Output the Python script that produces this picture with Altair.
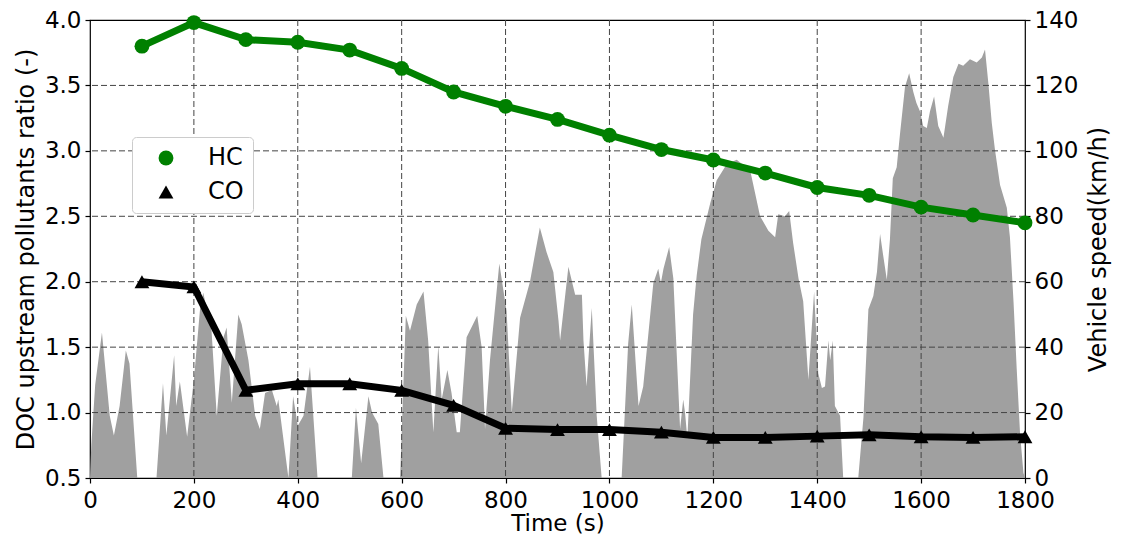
import altair as alt
import pandas as pd

# ---- data ----
speed_t = [0, 2.5, 10, 23, 38, 46, 57, 69, 76, 91, 128, 140.5, 147, 162, 166, 173, 187, 200, 212, 218,
           234, 244, 257, 263, 273, 285.5, 292, 305, 318, 327, 337, 350, 359.5, 362.5, 382, 391, 400, 411,
           423.5, 438, 504, 512, 522, 536, 543, 555, 565, 597, 608, 616, 629, 642, 651, 661, 670.5, 677,
           688, 696, 706, 712, 725, 745.5, 754, 760.5, 770, 788, 802, 812, 828, 847, 866, 879, 892, 902,
           905, 921, 934, 947, 950, 956, 966, 975.5, 985, 1023.5, 1036, 1043, 1056, 1065, 1084.5, 1094,
           1099, 1104, 1115, 1123, 1136, 1142, 1145.5, 1150, 1161, 1168, 1177, 1194, 1206.5, 1226, 1245,
           1271, 1290, 1306, 1319, 1325, 1338, 1346, 1353.5, 1364, 1373, 1383, 1394, 1402, 1409, 1415,
           1421.5, 1425, 1430, 1434, 1444, 1450, 1479, 1489, 1498.5, 1508, 1515, 1521, 1527, 1534, 1540,
           1545.5, 1553, 1559, 1569, 1577, 1585, 1591, 1598, 1604, 1611, 1617, 1625, 1633, 1643, 1652,
           1662, 1672, 1681, 1694, 1707, 1717, 1723, 1729.5, 1736, 1742, 1752, 1765, 1771, 1778, 1784,
           1790.5, 1797, 1800]
speed_v = [0, 10, 28.5, 44.5, 19, 13, 22, 39, 35, 0, 0, 29, 13, 37.5, 22, 29.5, 12.6, 30, 52, 56.6,
           45, 19, 43, 46, 23, 50, 47, 36, 19, 15, 26, 27, 22, 24, 0, 25, 16, 19,
           34, 0, 0, 21.5, 4.5, 25, 20, 16.5, 0, 0, 49.6, 45, 53, 57, 42, 14, 40.5, 24,
           33, 26, 14, 14, 43, 49.6, 40, 15, 36, 65.6, 51, 20, 49, 60, 76.6, 69, 63, 48,
           42, 64.6, 56, 56, 42, 28, 52, 19, 0, 0, 41, 53, 22, 28, 59.6, 64,
           59.6, 64, 70.6, 61, 15, 24, 20, 12, 50, 62, 73, 84, 91, 96, 97.3,
           94, 80, 75.6, 73.6, 80.6, 80, 81.6, 72, 61, 54, 30, 57, 32, 27.5, 28,
           42, 36, 42, 22, 19, 0, 0, 18.5, 51.6, 55.6, 63, 74.6, 68, 60.6, 73,
           91.6, 95, 104.6, 119.6, 123.7, 118, 114.6, 112, 107.6, 107, 112, 116.6, 107.6, 104, 113.6,
           122.6, 126.6, 126, 128, 127, 128.5, 131, 120.6, 108.6, 100.6, 89.6, 82.6, 73.6, 53.6, 33.5,
           13.5, 1.5, 0]

time_pts = [100, 200, 300, 400, 500, 600, 700, 800, 900, 1000, 1100, 1200, 1300, 1400, 1500, 1600, 1700, 1800]
hc_vals = [3.80, 3.98, 3.85, 3.83, 3.77, 3.63, 3.45, 3.34, 3.24, 3.12, 3.01, 2.93, 2.83, 2.72, 2.66, 2.57, 2.51, 2.45]
co_vals = [2.00, 1.96, 1.17, 1.22, 1.22, 1.17, 1.055, 0.88, 0.87, 0.87, 0.85, 0.81, 0.81, 0.82, 0.83, 0.815, 0.81, 0.815]

x_ticks = list(range(0, 1801, 200))
left_ticks = [0.5, 1.0, 1.5, 2.0, 2.5, 3.0, 3.5, 4.0]
right_ticks = list(range(0, 141, 20))

series_names = ["HC", "CO"]
series_colors = ["#008000", "#000000"]
series_shapes = ["circle", "triangle-up"]

# ---- tables ----
speed_df = pd.DataFrame({"t": speed_t, "v": speed_v})
hc_df = pd.DataFrame({"t": time_pts, "r": hc_vals, "s": "HC"})
co_df = pd.DataFrame({"t": time_pts, "r": co_vals, "s": "CO"})
pts_df = pd.concat([hc_df, co_df], ignore_index=True)
gx_df = pd.DataFrame({"gx": x_ticks[1:-1]})
gy_df = pd.DataFrame({"gy": left_ticks[1:-1]})

FONT = "DejaVu Sans"
x_scale = alt.Scale(domain=[0, 1800], nice=False, zero=False)
x_axis = alt.Axis(values=x_ticks, format="d", title="Time (s)", grid=False, titlePadding=0,
                  labelFlush=False, labelPadding=6, titleFontSize=23)
r_scale = alt.Scale(domain=[0.5, 4.0], nice=False, zero=False)
r_axis = alt.Axis(values=left_ticks, format=".1f", title="DOC upstream pollutants ratio (-)",
                  grid=False, orient="left", titlePadding=6, labelFlush=False)

area = alt.Chart(speed_df).mark_area(color="#a0a0a0", opacity=1, interpolate="linear").encode(
    x=alt.X("t:Q", scale=x_scale, axis=x_axis),
    y=alt.Y("v:Q", scale=alt.Scale(domain=[0, 140], nice=False),
            axis=alt.Axis(values=right_ticks, title="Vehicle speed(km/h)", grid=False,
                          orient="right", titlePadding=9, titleAngle=270, titleBaseline="top",
                          labelFlush=False)),
)

grid_style = dict(color="#444444", strokeWidth=1, strokeDash=[6, 3])
vgrid = alt.Chart(gx_df).mark_rule(**grid_style).encode(
    x=alt.X("gx:Q", scale=x_scale, axis=x_axis))
hgrid = alt.Chart(gy_df).mark_rule(**grid_style).encode(
    y=alt.Y("gy:Q", scale=r_scale, axis=r_axis))

hc_line = alt.Chart(hc_df).mark_line(color=series_colors[0], strokeWidth=7).encode(
    x=alt.X("t:Q", scale=x_scale, axis=x_axis),
    y=alt.Y("r:Q", scale=r_scale, axis=r_axis))
co_line = alt.Chart(co_df).mark_line(color=series_colors[1], strokeWidth=7).encode(
    x=alt.X("t:Q", scale=x_scale, axis=x_axis),
    y=alt.Y("r:Q", scale=r_scale, axis=r_axis))

pts = alt.Chart(pts_df).mark_point(filled=True, size=220, opacity=1).encode(
    x=alt.X("t:Q", scale=x_scale, axis=x_axis),
    y=alt.Y("r:Q", scale=r_scale, axis=r_axis),
    color=alt.Color("s:N", scale=alt.Scale(domain=series_names, range=series_colors),
                    legend=alt.Legend(title=None, orient="none", legendX=42, legendY=117)),
    shape=alt.Shape("s:N", scale=alt.Scale(domain=series_names, range=series_shapes),
                    legend=alt.Legend(title=None, orient="none", legendX=42, legendY=117)),
)

inner = alt.layer(vgrid, hgrid, hc_line, co_line, pts)

chart = alt.layer(area, inner).resolve_scale(y="independent").properties(
    width=935, height=458,
    autosize=alt.AutoSizeParams(type="none"),
    padding={"left": 82, "top": 12, "right": 100, "bottom": 62},
).configure_view(
    stroke="#000000", strokeWidth=1.2
).configure_axis(
    labelFont=FONT, titleFont=FONT, labelFontSize=23, titleFontSize=24,
    labelColor="#000000", titleColor="#000000", tickColor="#000000",
    tickSize=5, tickWidth=1.2, domain=False, labelPadding=4, titleFontWeight="normal",
).configure_legend(
    labelFont=FONT, labelFontSize=24, labelColor="#000000",
    symbolSize=220, symbolStrokeWidth=0, padding=9, symbolOffset=13, labelOffset=30,
    rowPadding=10, strokeColor="#cccccc", fillColor="white", cornerRadius=4,
)

chart.save("out.html", embed_options={"renderer": "svg", "actions": False})
